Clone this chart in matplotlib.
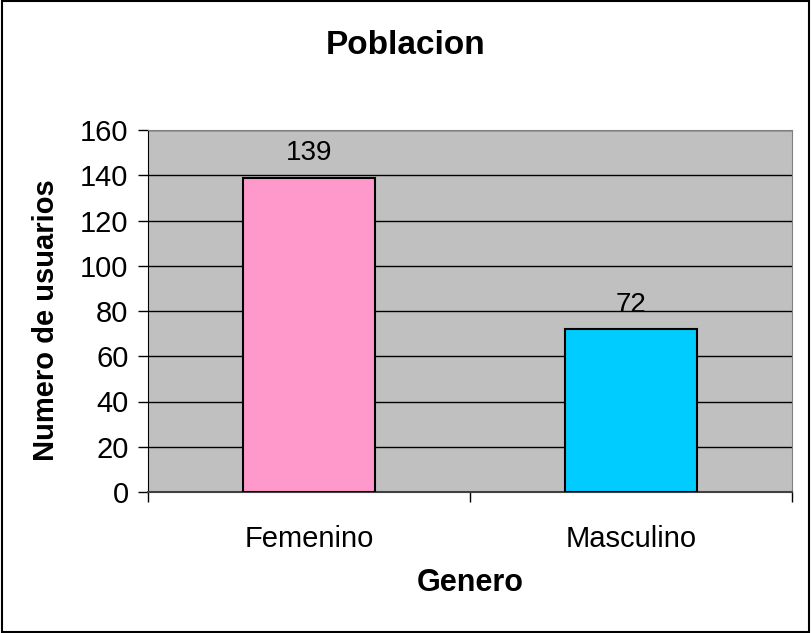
import matplotlib.pyplot as plt
from matplotlib.patches import Rectangle

generos = ['Femenino', 'Masculino']
usuarios = [139, 72]
colores = ['#FF99CC', '#00CCFF']

plt.rcParams['font.family'] = ['Liberation Sans', 'DejaVu Sans']

fig = plt.figure(figsize=(8.11, 6.33), dpi=100)
ax = fig.add_axes([148/811, 141/633, 644/811, 362/633])
ax.set_facecolor('#C0C0C0')

x = list(range(len(generos)))
bars = ax.bar(x, usuarios, width=0.41, color=colores, edgecolor='black', linewidth=1.5, zorder=3)
for xi, v in zip(x, usuarios):
    ax.text(xi, v + 5, str(v), ha='center', va='bottom', fontsize=20, zorder=4)

ax.set_xlim(-0.5, 1.5)
ax.set_ylim(0, 160)
ax.set_yticks(range(0, 161, 20))
ax.yaxis.grid(True, color='black', linewidth=1, zorder=1)
ax.set_xticks([-0.5, 0.5, 1.5], minor=False)
ax.set_xticklabels([])
ax.set_xticks(x, minor=True)
ax.set_xticklabels(generos, minor=True)
ax.tick_params(axis='x', which='minor', length=0, pad=24, labelsize=21)
ax.tick_params(axis='x', which='major', length=7, direction='out', width=1)
ax.tick_params(axis='y', length=7, direction='out', width=1, labelsize=21, pad=7)

for s in ['top', 'right']:
    ax.spines[s].set_color('#808080')
ax.spines['left'].set_color('black')
ax.spines['bottom'].set_color('#404040')
ax.spines['bottom'].set_linewidth(1.5)

ax.set_xlabel('Genero', fontsize=22, fontweight='bold')
ax.xaxis.set_label_coords((470 - 148) / 644, -(583 - 492) / 362)
ax.xaxis.label.set_va('center')
ax.set_ylabel('Numero de usuarios', fontsize=21, fontweight='bold')
ax.yaxis.set_label_coords(-(148 - 46) / 644, (492 - 320) / 362)
ax.yaxis.label.set_va('center')
fig.text(0.5, 1 - 45/633, 'Poblacion', fontsize=24, fontweight='bold', ha='center', va='center')

fig.patches.append(Rectangle((0.002, 0.002), 0.996, 0.996, transform=fig.transFigure,
                             fill=False, edgecolor='black', linewidth=1.5))

fig.savefig('out.png', dpi=100)
